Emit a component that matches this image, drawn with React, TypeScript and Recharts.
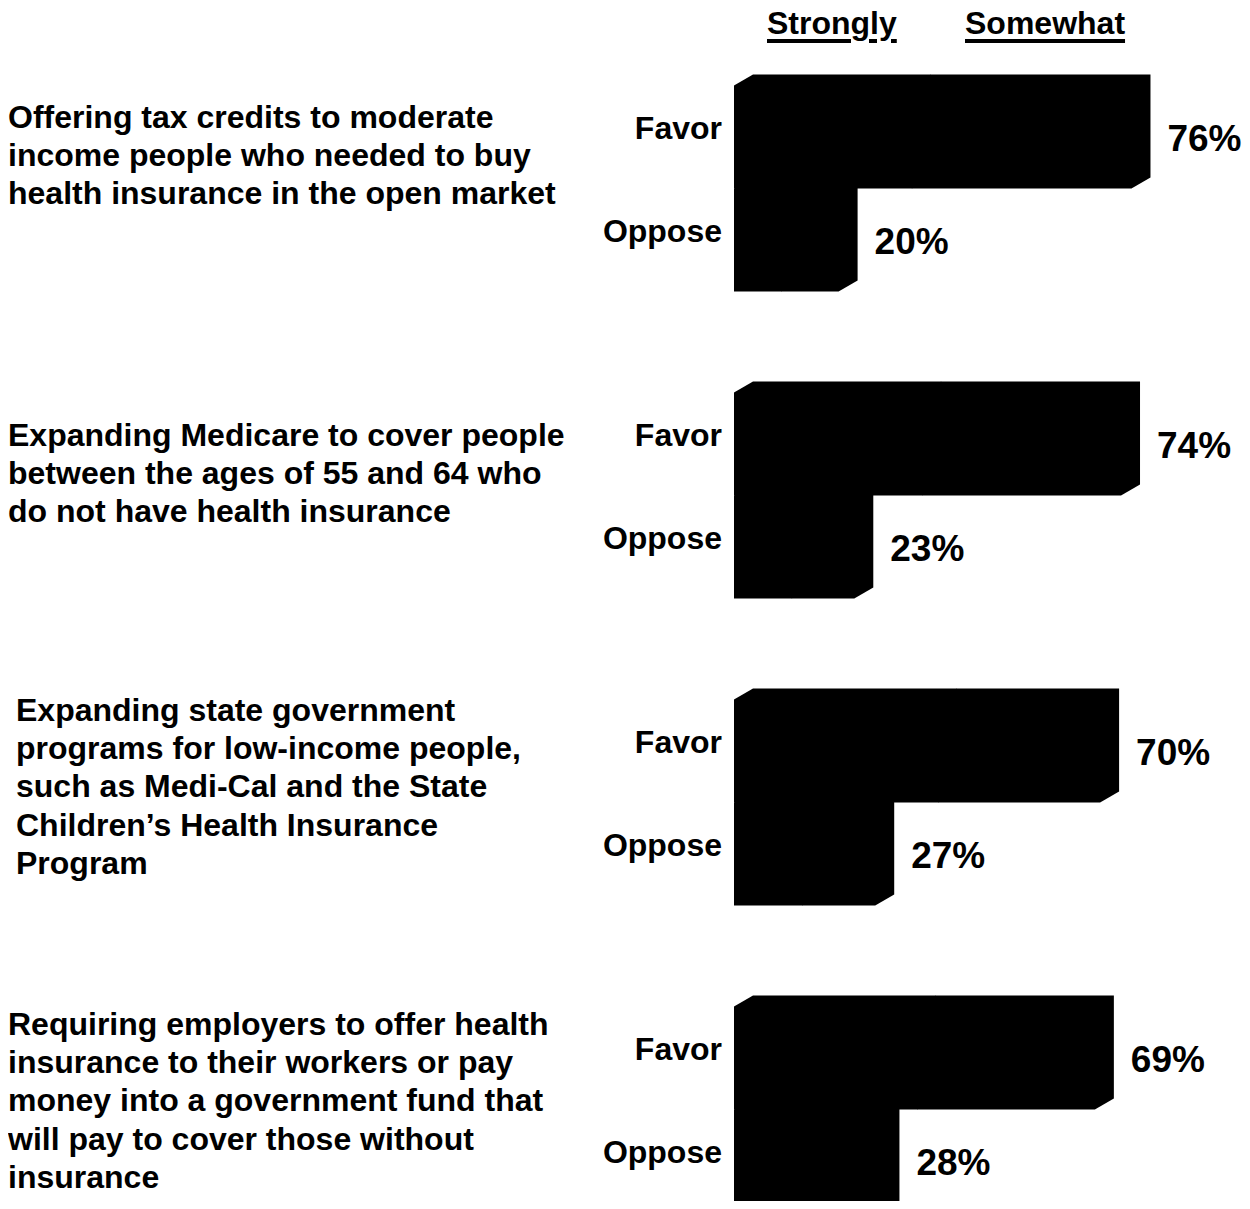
import React from "react";
import { BarChart, Bar, XAxis, YAxis, LabelList, Legend } from "recharts";

// ---------- data ----------
const questions: string[][] = [
  ["Offering tax credits to moderate", "income people who needed to buy", "health insurance in the open market"],
  ["Expanding Medicare to cover people", "between the ages of 55 and 64 who", "do not have health insurance"],
  [
    "Expanding state government",
    "programs for low-income people,",
    "such as Medi-Cal and the State",
    "Children\u2019s Health Insurance",
    "Program",
  ],
  [
    "Requiring employers to offer health",
    "insurance to their workers or pay",
    "money into a government fund that",
    "will pay to cover those without",
    "insurance",
  ],
];
const favorTotal = [76, 74, 70, 69];
const favorStrongly = [34, 36, 39, 35];
const opposeTotal = [20, 23, 27, 28];
const opposeStrongly = [9, 11, 13, 16];
const seriesLabels = ["Strongly", "Somewhat"];
const barLabels = ["Favor", "Oppose"];

const data = questions.map((lines, i) => ({
  question: lines.join(" "),
  favorStrongly: favorStrongly[i],
  favorSomewhat: favorTotal[i] - favorStrongly[i],
  opposeStrongly: opposeStrongly[i],
  opposeSomewhat: opposeTotal[i] - opposeStrongly[i],
  favorTotal: favorTotal[i],
  opposeTotal: opposeTotal[i],
}));

// ---------- layout / style ----------
const FONT = "'Liberation Sans', Arial, Helvetica, sans-serif";
const W = 1234;
const H = 1260;
const DX = 19; // 3D depth, horizontal
const DY = 11; // 3D depth, vertical
const LINE = 38.4;
const questionFirstLine = [-72, -61, -93, -86];
const questionIndent = [0, 0, 8, 0];
const headerLeft = [759, 957];

const Bar3D = (props: any) => {
  const { x, y, width, height } = props;
  if (!width || width <= 0 || !height) return null;
  const d = `M${x},${y} L${x + DX},${y - DY} L${x + width + DX},${y - DY} L${x + width + DX},${
    y + height - DY
  } L${x + width},${y + height} L${x},${y + height} Z`;
  return <path d={d} fill="#000" stroke="none" />;
};

const QuestionTick = (props: any) => {
  const { y, payload } = props;
  const idx = questions.findIndex((l) => l.join(" ") === payload.value);
  if (idx < 0) return null;
  const lines = questions[idx];
  return (
    <text fontFamily={FONT} fontWeight="bold" fontSize={32} fill="#000" textAnchor="start">
      {lines.map((ln, j) => (
        <tspan key={j} x={questionIndent[idx]} y={y + questionFirstLine[idx] + j * LINE + 11.5}>
          {ln}
        </tspan>
      ))}
    </text>
  );
};

const makeNameLabel = (label: string) => (props: any) => {
  const vb = props.viewBox || props;
  const { x, y, height } = vb;
  return (
    <text
      x={x - 12}
      y={y + height / 2 - 10 + 11.5}
      textAnchor="end"
      fontFamily={FONT}
      fontWeight="bold"
      fontSize={32}
      fill="#000"
    >
      {label}
    </text>
  );
};

const ValueLabel = (props: any) => {
  const vb = props.viewBox || props;
  const { x, y, width, height } = vb;
  const value = props.value;
  return (
    <text
      x={x + width + 36}
      y={y + height / 2 + 13.5}
      textAnchor="start"
      fontFamily={FONT}
      fontWeight="bold"
      fontSize={37}
      fill="#000"
    >
      {`${value}%`}
    </text>
  );
};

const HeaderLegend = () => (
  <div style={{ position: "relative", width: W, height: 50, fontFamily: FONT }}>
    {seriesLabels.map((s, i) => (
      <span
        key={s}
        style={{
          position: "absolute",
          left: headerLeft[i],
          top: -3,
          fontSize: 32,
          lineHeight: "36px",
          fontWeight: "bold",
          color: "#000",
          textDecoration: "underline",
          textDecorationThickness: "4px",
          textUnderlineOffset: "5px",
          whiteSpace: "nowrap",
        }}
      >
        {s}
      </span>
    ))}
  </div>
);

export default function App() {
  return (
    <div
      style={{
        width: W,
        height: 1201,
        overflow: "hidden",
        marginTop: -8,
        paddingTop: 8,
        marginBottom: -8,
      }}
    >
      <BarChart
        width={W}
        height={H}
        data={data}
        layout="vertical"
        margin={{ top: 26.5, right: 37.3, bottom: 5.5, left: 0 }}
        barSize={103}
        barGap={0}
      >
        <XAxis type="number" domain={[0, 90]} hide />
        <YAxis
          type="category"
          dataKey="question"
          width={726}
          axisLine={false}
          tickLine={false}
          tick={<QuestionTick />}
          interval={0}
        />
        <Legend
          layout="vertical"
          align="center"
          verticalAlign="middle"
          wrapperStyle={{ top: 0, left: 0, width: W, height: 50 }}
          content={() => <HeaderLegend />}
        />
        <Bar dataKey="favorStrongly" name="Favor – Strongly" stackId="favor" fill="#000" shape={<Bar3D />} isAnimationActive={false}>
          <LabelList dataKey="favorStrongly" content={makeNameLabel(barLabels[0])} />
        </Bar>
        <Bar dataKey="favorSomewhat" name="Favor – Somewhat" stackId="favor" fill="#000" shape={<Bar3D />} isAnimationActive={false}>
          <LabelList dataKey="favorTotal" content={<ValueLabel />} />
        </Bar>
        <Bar dataKey="opposeStrongly" name="Oppose – Strongly" stackId="oppose" fill="#000" shape={<Bar3D />} isAnimationActive={false}>
          <LabelList dataKey="opposeStrongly" content={makeNameLabel(barLabels[1])} />
        </Bar>
        <Bar dataKey="opposeSomewhat" name="Oppose – Somewhat" stackId="oppose" fill="#000" shape={<Bar3D />} isAnimationActive={false}>
          <LabelList dataKey="opposeTotal" content={<ValueLabel />} />
        </Bar>
      </BarChart>
    </div>
  );
}
